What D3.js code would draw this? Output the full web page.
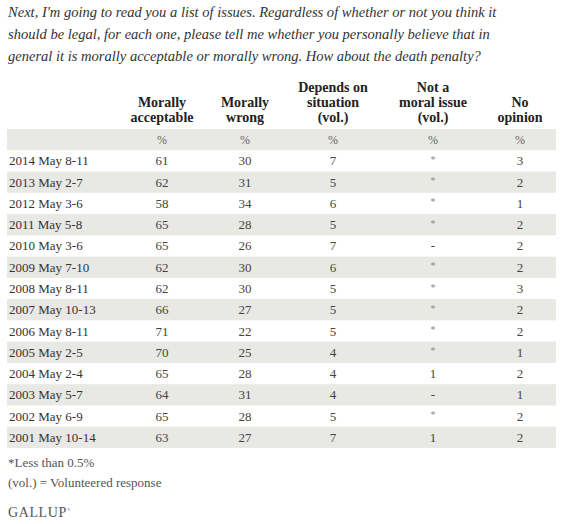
<!DOCTYPE html>
<html><head><meta charset="utf-8">
<script src="https://cdn.jsdelivr.net/npm/d3@7/dist/d3.min.js"></script>
<style>
html,body{margin:0;padding:0;background:#fff;}
svg{display:block;}
text{font-family:Georgia,"Liberation Serif","DejaVu Serif",serif;}
</style></head>
<body>
<svg id="chart" width="563" height="524"></svg>
<script>
const titleLines = [
  "Next, I'm going to read you a list of issues. Regardless of whether or not you think it",
  "should be legal, for each one, please tell me whether you personally believe that in",
  "general it is morally acceptable or morally wrong. How about the death penalty?"
];
const columns = ["acceptable","wrong","depends","notMoral","noOpinion"];
const columnHeaders = [
  ["Morally","acceptable"],
  ["Morally","wrong"],
  ["Depends on","situation","(vol.)"],
  ["Not a","moral issue","(vol.)"],
  ["No","opinion"]
];
const dates = ["2014 May 8-11","2013 May 2-7","2012 May 3-6","2011 May 5-8","2010 May 3-6","2009 May 7-10","2008 May 8-11","2007 May 10-13","2006 May 8-11","2005 May 2-5","2004 May 2-4","2003 May 5-7","2002 May 6-9","2001 May 10-14"];
const acceptable = [61,62,58,65,65,62,62,66,71,70,65,64,65,63];
const wrong = [30,31,34,28,26,30,30,27,22,25,28,31,28,27];
const depends = [7,5,6,5,7,6,5,5,5,4,4,4,5,7];
const notMoral = ["*","*","*","*","-","*","*","*","*","*","1","-","*","1"];
const noOpinion = [3,2,1,2,2,2,3,2,2,1,2,1,2,2];
const footnotes = ["*Less than 0.5%","(vol.) = Volunteered response"];

const seriesByCol = {acceptable, wrong, depends, notMoral, noOpinion};
const svg = d3.select("#chart");

// Title
const title = svg.append("g").attr("font-style","italic").attr("fill","#333");
const tl = title.selectAll("text").data(titleLines).join("text")
  .attr("x",8).attr("y",(d,i)=>17+i*22).attr("font-size",14).text(d=>d);
const w0 = tl.nodes()[0].getComputedTextLength();
const fs = Math.max(11, Math.min(16, 14*489/w0));
tl.attr("font-size",fs);

// Scales
const rowKeys = ["%"].concat(dates);
const y = d3.scaleBand().domain(rowKeys).range([129,448]).padding(0);
const x = d3.scaleOrdinal().domain(columns).range([162,245,333,433,520]);
const tableLeft = 7, tableRight = 556;

// Bands
svg.append("g").selectAll("rect")
  .data(rowKeys.filter((d,i)=>i%2===0))
  .join("rect")
  .attr("x",tableLeft).attr("width",tableRight-tableLeft)
  .attr("y",d=>y(d)).attr("height",y.bandwidth())
  .attr("fill","#e8e8e4");

// Headers
const hdr = svg.append("g").attr("font-weight","bold").attr("fill","#222").attr("font-size",14).attr("text-anchor","middle");
columns.forEach((c,ci)=>{
  const lines = columnHeaders[ci];
  lines.forEach((ln,li)=>{
    const fromBottom = lines.length-1-li;
    hdr.append("text").attr("x",x(c)).attr("y",122-fromBottom*15).text(ln);
  });
});

// % row
svg.append("g").attr("fill","#666").attr("font-size",12).attr("text-anchor","middle")
  .selectAll("text").data(columns).join("text")
  .attr("x",d=>x(d)).attr("y",y("%")+y.bandwidth()/2+4).text("%");

// date labels
svg.append("g").attr("fill","#333").attr("font-size",13)
  .selectAll("text").data(dates).join("text")
  .attr("x",9).attr("y",d=>y(d)+y.bandwidth()/2+4.5).text(d=>d);

// values
const cells = [];
columns.forEach(c=>{ seriesByCol[c].forEach((v,i)=>cells.push({c, row:dates[i], v:String(v)})); });
svg.append("g").attr("text-anchor","middle")
  .selectAll("text").data(cells).join("text")
  .attr("x",d=>x(d.c))
  .attr("y",d=>y(d.row)+y.bandwidth()/2+(d.v==="*"?2:4.5))
  .attr("font-size",d=>d.v==="*"?10:13)
  .attr("fill",d=>d.v==="*"?"#888":"#444")
  .text(d=>d.v);

// footnotes
svg.append("g").attr("fill","#555").attr("font-size",13)
  .selectAll("text").data(footnotes).join("text")
  .attr("x",8).attr("y",(d,i)=>467+i*20).text(d=>d);

// logo
const logo = svg.append("text").attr("x",8).attr("y",517).attr("fill","#555").attr("font-size",14).attr("letter-spacing",0.6);
logo.append("tspan").text("GALLUP");
logo.append("tspan").attr("font-size",5).attr("dy",-6).text("®");
</script>
</body></html>
